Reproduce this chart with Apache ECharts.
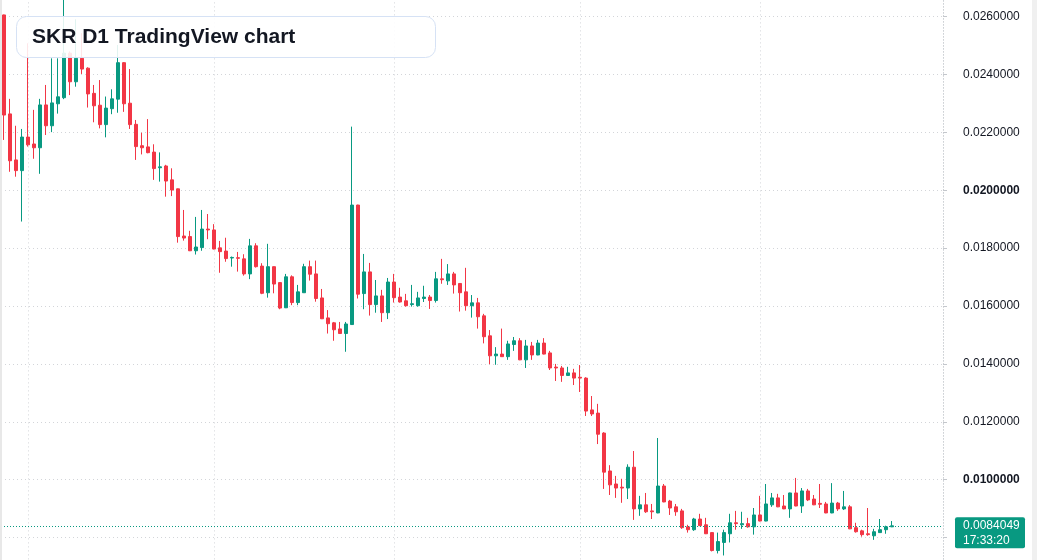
<!DOCTYPE html>
<html>
<head>
<meta charset="utf-8">
<script src="https://cdn.jsdelivr.net/npm/echarts@6/dist/echarts.min.js"></script>
<style>
html, body { margin: 0; padding: 0; background: #fff; }
#chart { width: 1037px; height: 560px; }
</style>
</head>
<body>
<div id="chart"></div>
<script>
// daily candles, oldest first
var opens = [
	0.02606, 0.02264, 0.02105, 0.02068, 0.02184, 0.02160, 0.02147, 0.02295, 0.02223, 0.02299,
	0.02320, 0.02474, 0.02375, 0.02456, 0.02422, 0.02335, 0.02294, 0.02227, 0.02282, 0.02315,
	0.02441, 0.02301, 0.02228, 0.02154, 0.02150, 0.02132, 0.02078, 0.02084, 0.02036, 0.02005,
	0.01842, 0.01840, 0.01791, 0.01802, 0.01866, 0.01863, 0.01801, 0.01790, 0.01766, 0.01767,
	0.01763, 0.01711, 0.01808, 0.01738, 0.01646, 0.01736, 0.01681, 0.01594, 0.01701, 0.01612,
	0.01646, 0.01736, 0.01711, 0.01628, 0.01559, 0.01542, 0.01521, 0.01505, 0.01536, 0.01949,
	0.01643, 0.01718, 0.01605, 0.01635, 0.01577, 0.01683, 0.01631, 0.01618, 0.01605, 0.01601,
	0.01626, 0.01631, 0.01619, 0.01694, 0.01687, 0.01711, 0.01678, 0.01649, 0.01601, 0.01611,
	0.01566, 0.01497, 0.01428, 0.01434, 0.01425, 0.01467, 0.01480, 0.01414, 0.01462, 0.01431,
	0.01472, 0.01438, 0.01389, 0.01386, 0.01360, 0.01369, 0.01354, 0.01351, 0.01241, 0.01230,
	0.01161, 0.01030, 0.00985, 0.00974, 0.00971, 0.01043, 0.00899, 0.00913, 0.00892, 0.00885,
	0.00978, 0.00926, 0.00906, 0.00892, 0.00837, 0.00827, 0.00864, 0.00844, 0.00817, 0.00755,
	0.00783, 0.00813, 0.00851, 0.00844, 0.00848, 0.00837, 0.00878, 0.00857, 0.00913, 0.00937,
	0.00909, 0.00899, 0.00954, 0.00909, 0.00961, 0.00933, 0.00918, 0.00916, 0.00885, 0.00919,
	0.00899, 0.00906, 0.00834, 0.00823, 0.00813, 0.00806, 0.00817, 0.00827, 0.00837
];
var closes = [
	0.02260, 0.02102, 0.02068, 0.02184, 0.02157, 0.02147, 0.02295, 0.02223, 0.02302, 0.02323,
	0.02474, 0.02375, 0.02456, 0.02419, 0.02333, 0.02292, 0.02227, 0.02284, 0.02316, 0.02441,
	0.02299, 0.02227, 0.02151, 0.02147, 0.02130, 0.02075, 0.02081, 0.02032, 0.02001, 0.01840,
	0.01835, 0.01791, 0.01804, 0.01866, 0.01863, 0.01797, 0.01788, 0.01764, 0.01768, 0.01765,
	0.01711, 0.01808, 0.01736, 0.01644, 0.01736, 0.01676, 0.01593, 0.01701, 0.01612, 0.01649,
	0.01736, 0.01710, 0.01626, 0.01556, 0.01539, 0.01518, 0.01505, 0.01538, 0.01949, 0.01641,
	0.01718, 0.01605, 0.01635, 0.01577, 0.01683, 0.01629, 0.01614, 0.01601, 0.01608, 0.01628,
	0.01631, 0.01619, 0.01694, 0.01691, 0.01711, 0.01673, 0.01646, 0.01601, 0.01611, 0.01563,
	0.01494, 0.01428, 0.01434, 0.01425, 0.01469, 0.01480, 0.01414, 0.01462, 0.01431, 0.01472,
	0.01434, 0.01386, 0.01386, 0.01360, 0.01369, 0.01351, 0.01351, 0.01237, 0.01227, 0.01157,
	0.01026, 0.00982, 0.00971, 0.00971, 0.01043, 0.00899, 0.00913, 0.00889, 0.00889, 0.00978,
	0.00923, 0.00902, 0.00889, 0.00834, 0.00827, 0.00864, 0.00841, 0.00813, 0.00755, 0.00786,
	0.00817, 0.00851, 0.00848, 0.00848, 0.00837, 0.00878, 0.00857, 0.00916, 0.00937, 0.00906,
	0.00899, 0.00954, 0.00909, 0.00961, 0.00930, 0.00913, 0.00915, 0.00885, 0.00919, 0.00899,
	0.00906, 0.00830, 0.00820, 0.00810, 0.00810, 0.00820, 0.00827, 0.00837, 0.0084049
];
var lows = [
	0.02174, 0.02064, 0.02047, 0.01892, 0.02151, 0.02109, 0.02057, 0.02191, 0.02201, 0.02265,
	0.02315, 0.02329, 0.02358, 0.02402, 0.02286, 0.02235, 0.02214, 0.02183, 0.02263, 0.02268,
	0.02271, 0.02212, 0.02105, 0.02124, 0.02128, 0.02036, 0.02030, 0.01978, 0.01980, 0.01819,
	0.01826, 0.01790, 0.01778, 0.01791, 0.01831, 0.01796, 0.01715, 0.01753, 0.01736, 0.01719,
	0.01705, 0.01693, 0.01733, 0.01641, 0.01629, 0.01644, 0.01589, 0.01593, 0.01603, 0.01603,
	0.01645, 0.01688, 0.01615, 0.01555, 0.01505, 0.01480, 0.01504, 0.01442, 0.01535, 0.01626,
	0.01589, 0.01567, 0.01577, 0.01545, 0.01555, 0.01612, 0.01612, 0.01598, 0.01598, 0.01598,
	0.01614, 0.01590, 0.01612, 0.01677, 0.01673, 0.01643, 0.01581, 0.01584, 0.01560, 0.01522,
	0.01471, 0.01399, 0.01397, 0.01424, 0.01414, 0.01445, 0.01413, 0.01386, 0.01414, 0.01430,
	0.01433, 0.01379, 0.01341, 0.01338, 0.01359, 0.01327, 0.01303, 0.01220, 0.01220, 0.01123,
	0.00968, 0.00947, 0.00937, 0.00920, 0.00933, 0.00861, 0.00875, 0.00885, 0.00864, 0.00884,
	0.00922, 0.00878, 0.00875, 0.00830, 0.00817, 0.00823, 0.00840, 0.00812, 0.00752, 0.00745,
	0.00738, 0.00783, 0.00827, 0.00830, 0.00834, 0.00810, 0.00856, 0.00856, 0.00906, 0.00905,
	0.00898, 0.00868, 0.00908, 0.00885, 0.00926, 0.00912, 0.00902, 0.00884, 0.00884, 0.00892,
	0.00895, 0.00829, 0.00817, 0.00803, 0.00806, 0.00792, 0.00816, 0.00813, 0.00836
];
var highs = [
	0.02607, 0.02316, 0.02223, 0.02212, 0.02508, 0.02278, 0.02316, 0.02364, 0.02456, 0.02456,
	0.02680, 0.02480, 0.02591, 0.02543, 0.02425, 0.02364, 0.02381, 0.02324, 0.02349, 0.02502,
	0.02443, 0.02419, 0.02243, 0.02199, 0.02246, 0.02159, 0.02131, 0.02088, 0.02076, 0.02006,
	0.01932, 0.01860, 0.01908, 0.01932, 0.01918, 0.01883, 0.01825, 0.01836, 0.01771, 0.01787,
	0.01779, 0.01832, 0.01817, 0.01748, 0.01815, 0.01737, 0.01682, 0.01711, 0.01706, 0.01673,
	0.01746, 0.01757, 0.01757, 0.01659, 0.01586, 0.01545, 0.01545, 0.01545, 0.02220, 0.01950,
	0.01780, 0.01749, 0.01690, 0.01656, 0.01697, 0.01711, 0.01663, 0.01642, 0.01673, 0.01649,
	0.01670, 0.01638, 0.01718, 0.01763, 0.01745, 0.01718, 0.01679, 0.01732, 0.01638, 0.01628,
	0.01573, 0.01517, 0.01458, 0.01522, 0.01480, 0.01493, 0.01489, 0.01483, 0.01476, 0.01483,
	0.01489, 0.01445, 0.01400, 0.01393, 0.01390, 0.01383, 0.01396, 0.01354, 0.01289, 0.01262,
	0.01164, 0.01050, 0.01013, 0.01003, 0.01053, 0.01099, 0.00944, 0.00954, 0.00916, 0.01144,
	0.00985, 0.00930, 0.00916, 0.00899, 0.00844, 0.00868, 0.00882, 0.00868, 0.00818, 0.00817,
	0.00827, 0.00882, 0.00892, 0.00889, 0.00868, 0.00902, 0.00944, 0.00985, 0.00954, 0.00951,
	0.00947, 0.00955, 0.01006, 0.00971, 0.00968, 0.00947, 0.00985, 0.00923, 0.00988, 0.00923,
	0.00961, 0.00912, 0.00851, 0.00827, 0.00902, 0.00830, 0.00864, 0.00841, 0.00857
];
// first candle of each month (vertical grid lines)
var monthStarts = [4, 35, 65, 96, 126];
// empty days to the right of the last candle
var spareDays = 8;
var boldTicks = [0.02, 0.01];
var lastPrice = 0.0084049;
var lastTime = '17:33:20';
var title = 'SKR D1 TradingView chart';

var UP = '#089981', DOWN = '#F23645';
var FONT = '"Liberation Sans", Arial, sans-serif';

var days = [];
for (var i = 0; i < opens.length + spareDays; i++) {
	days.push('d' + i);
}
var candles = [];
for (var i = 0; i < opens.length; i++) {
	candles.push([opens[i], closes[i], lows[i], highs[i]]);
}

function fmtTick(v) {
	var s = v.toFixed(7);
	for (var j = 0; j < boldTicks.length; j++) {
		if (Math.abs(v - boldTicks[j]) < 1e-9) return '{b|' + s + '}';
	}
	return s;
}

var myChart = echarts.init(document.getElementById('chart'));
var option = {
	animation : false,
	backgroundColor : '#ffffff',
	grid : {
		left : 1,
		right : 94,
		top : -41.2,
		height : 636.6,
		outerBoundsMode : 'none',
		containLabel : false
	},
	xAxis : {
		type : 'category',
		data : days,
		boundaryGap : true,
		axisLine : { show : false },
		axisTick : { show : false },
		axisLabel : { show : false },
		splitLine : { show : false }
	},
	yAxis : {
		type : 'value',
		position : 'right',
		min : 0.006,
		max : 0.028,
		interval : 0.002,
		axisLine : {
			show : true,
			lineStyle : { color : '#cfd2d6', type : [1, 2] }
		},
		axisTick : {
			show : true,
			length : 4,
			lineStyle : { color : '#c4c7cc' }
		},
		axisLabel : {
			margin : 20,
			color : '#131722',
			fontSize : 12,
			fontFamily : FONT,
			formatter : fmtTick,
			rich : {
				b : { fontWeight : 'bold', color : '#131722', fontSize : 12, fontFamily : FONT }
			}
		},
		splitLine : {
			show : true,
			lineStyle : { color : '#d3d5d9', type : [1, 3] }
		}
	},
	series : [ {
		type : 'line',
		data : [],
		silent : true,
		markLine : {
			silent : true,
			z : 1,
			symbol : 'none',
			label : { show : false },
			lineStyle : { color : '#d3d5d9', type : [1, 3], width : 1 },
			data : monthStarts.map(function(i) { return { xAxis : days[i] }; })
		}
	}, {
		type : 'candlestick',
		data : candles,
		barWidth : 4,
		itemStyle : {
			color : UP,
			color0 : DOWN,
			borderColor : UP,
			borderColor0 : DOWN,
			borderWidth : 1
		},
		markLine : {
			silent : true,
			symbol : 'none',
			precision : 7,
			label : { show : false },
			lineStyle : { color : UP, type : [1, 2], width : 1, opacity : 1 },
			data : [ { yAxis : lastPrice } ]
		}
	} ]
};
myChart.setOption(option);

var py = myChart.convertToPixel({ yAxisIndex : 0 }, lastPrice);
myChart.setOption({
	graphic : [
		{ type : 'rect', z : 100, silent : true, shape : { x : 0, y : 0, width : 2, height : 560 }, style : { fill : '#e8e8e8' } },
		{ type : 'rect', z : 100, silent : true, shape : { x : 1032, y : 0, width : 5, height : 560 }, style : { fill : '#f0f0f0' } },
		{
			type : 'rect', z : 100, silent : true,
			shape : { x : 16.5, y : 16.5, width : 419, height : 41, r : 10 },
			style : { fill : 'rgba(255,255,255,0.88)', stroke : '#d6e2f5', lineWidth : 1 }
		},
		{
			type : 'text', z : 101, silent : true, x : 32, y : 37,
			style : { text : title, fill : '#131722', font : 'bold 21px ' + FONT, verticalAlign : 'middle' }
		},
		{
			type : 'rect', z : 100, silent : true,
			shape : { x : 955, y : py - 8.5, width : 70, height : 31, r : 2 },
			style : { fill : UP }
		},
		{
			type : 'text', z : 101, silent : true, x : 963, y : py,
			style : { text : lastPrice.toFixed(7), fill : '#ffffff', font : '12px ' + FONT, verticalAlign : 'middle' }
		},
		{
			type : 'text', z : 101, silent : true, x : 963, y : py + 14.5,
			style : { text : lastTime, fill : '#ffffff', font : '12px ' + FONT, verticalAlign : 'middle' }
		}
	]
});
</script>
</body>
</html>
